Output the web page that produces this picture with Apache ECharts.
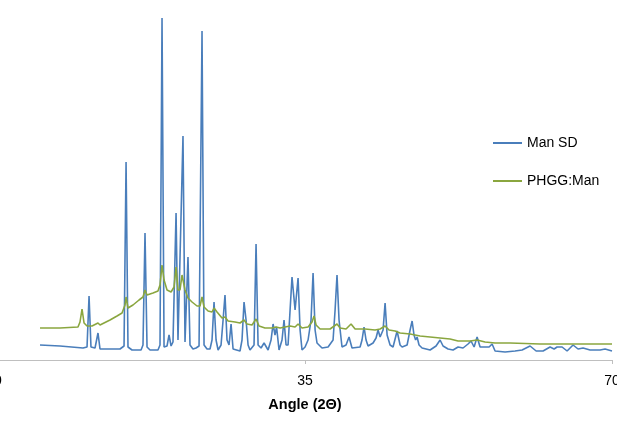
<!DOCTYPE html>
<html>
<head>
<meta charset="utf-8">
<script src="https://cdn.jsdelivr.net/npm/echarts@6/dist/echarts.min.js"></script>
<style>
html,body{margin:0;padding:0;background:#fff;}
#chart{width:617px;height:424px;}
</style>
</head>
<body>
<div id="chart"></div>
<script>
// X-ray powder diffraction patterns, angle in degrees 2θ, intensity in arbitrary units
var xTicks = [0, 35, 70];
var seriesNames = ['Man SD', 'PHGG:Man'];

var manSdAngle = [4.79,7.07,9.69,10.15,10.38,10.60,11.06,11.40,11.63,12.77,13.91,14.37,14.60,14.82,15.28,16.31,16.53,16.76,16.99,17.33,18.24,18.47,18.70,18.93,19.27,19.50,19.73,19.95,20.30,20.52,20.70,21.09,21.32,21.66,21.89,22.23,22.58,22.92,23.26,23.49,23.83,24.17,24.40,24.63,24.86,25.09,25.43,25.66,25.88,26.11,26.34,26.57,26.80,27.59,27.82,28.05,28.28,28.51,28.73,29.19,29.42,29.65,29.99,30.33,30.79,31.13,31.36,31.58,31.76,32.04,32.38,32.61,32.84,33.07,33.30,33.52,33.87,34.21,34.44,34.66,35.01,35.35,35.69,35.92,36.15,36.37,36.94,37.63,38.20,38.43,38.65,38.88,39.22,39.68,40.02,40.36,41.28,41.50,41.73,41.96,42.19,42.76,43.10,43.33,43.56,43.90,44.13,44.36,44.70,45.04,45.50,45.84,46.07,46.64,46.98,47.21,47.43,47.61,47.78,48.00,48.35,49.26,49.94,50.40,50.74,51.31,51.88,52.45,53.02,53.59,53.93,54.28,54.62,54.96,55.53,55.99,56.33,56.67,57.81,58.95,59.75,60.66,61.35,62.14,62.94,63.40,63.74,64.31,64.88,65.56,66.13,66.70,67.50,68.64,69.21,70.00];
var manSdIntensity = [150,140,120,130,640,130,120,270,110,110,110,140,1980,130,100,100,150,1270,130,100,100,150,3420,130,140,250,140,180,1470,200,200,2240,180,1030,150,110,120,140,3290,150,110,110,200,580,200,100,150,400,650,200,150,360,110,90,200,580,400,150,100,150,1160,150,120,170,100,200,360,250,330,100,200,400,150,150,500,830,500,820,300,100,130,200,400,870,300,170,120,130,200,500,850,400,130,150,230,120,130,200,330,200,140,170,220,300,230,300,570,250,150,130,290,150,130,150,300,390,250,200,230,150,120,100,140,200,140,110,100,130,120,160,190,130,230,130,130,130,160,90,80,90,100,140,90,90,130,110,130,130,90,150,110,120,100,100,110,90];

var phggAngle = [4.79,7.07,9.12,9.35,9.58,9.81,10.15,10.72,11.40,11.63,12.77,13.57,14.14,14.48,14.60,14.82,15.39,16.08,16.53,16.76,16.99,17.67,18.24,18.47,18.70,18.93,19.27,19.73,20.07,20.30,20.52,20.75,20.98,21.09,21.32,21.66,22.12,22.69,23.03,23.26,23.49,23.95,24.40,24.63,24.97,25.54,25.88,26.23,27.02,27.59,28.05,28.39,28.96,29.42,29.76,30.44,31.24,31.70,32.16,32.73,33.30,33.87,34.21,34.66,35.35,35.80,36.03,36.26,36.72,37.86,38.65,39.00,39.68,40.25,40.71,41.85,42.99,43.56,44.13,44.58,45.27,45.84,46.98,48.12,49.26,50.40,51.54,52.45,53.82,54.62,55.53,56.67,58.38,61.80,65.45,70.00];
var phggIntensity = [320,320,330,380,510,370,340,340,370,350,400,440,470,550,630,520,550,600,630,700,650,670,690,750,950,800,700,680,730,930,700,700,850,870,700,620,580,540,540,630,530,490,480,520,480,420,430,390,380,370,400,360,350,410,340,320,320,330,320,330,340,330,360,320,330,380,440,350,310,310,360,320,310,360,310,310,300,310,340,300,290,270,260,240,230,220,210,190,190,200,180,170,170,160,160,160];

function pairs(xs, ys) {
  var out = [];
  for (var i = 0; i < xs.length; i++) out.push([xs[i], ys[i]]);
  return out;
}

var FONT = 'Liberation Sans, Arial, sans-serif';
var chart = echarts.init(document.getElementById('chart'), null, {renderer: 'canvas'});
chart.setOption({
  animation: false,
  backgroundColor: '#ffffff',
  grid: {left: -2, right: 5, top: 0, bottom: 64, containLabel: false, outerBoundsMode: 'none'},
  legend: {
    orient: 'vertical',
    left: 488,
    top: 131,
    itemWidth: 29,
    itemHeight: 2,
    itemGap: 24,
    icon: 'rect',
    textStyle: {fontFamily: FONT, fontSize: 14, color: '#000'},
    data: seriesNames
  },
  xAxis: {
    type: 'value',
    min: xTicks[0],
    max: xTicks[xTicks.length - 1],
    interval: xTicks[1] - xTicks[0],
    name: 'Angle (2\u0398)',
    nameLocation: 'middle',
    nameGap: 37,
    nameTextStyle: {fontFamily: FONT, fontSize: 14.5, fontWeight: 'bold', color: '#000'},
    axisLine: {show: true, lineStyle: {color: '#bfbfbf', width: 1}},
    axisTick: {show: true, length: 4, lineStyle: {color: '#bfbfbf'}},
    axisLabel: {fontFamily: FONT, fontSize: 14, color: '#000', margin: 14},
    splitLine: {show: false}
  },
  yAxis: {
    type: 'value',
    min: 0,
    max: 3600,
    show: false,
    splitLine: {show: false}
  },
  series: [
    {
      name: seriesNames[0],
      type: 'line',
      data: pairs(manSdAngle, manSdIntensity),
      showSymbol: false,
      lineStyle: {color: '#4a7ebb', width: 1.6},
      itemStyle: {color: '#4a7ebb'},
      z: 2
    },
    {
      name: seriesNames[1],
      type: 'line',
      data: pairs(phggAngle, phggIntensity),
      showSymbol: false,
      lineStyle: {color: '#8aa63f', width: 1.6},
      itemStyle: {color: '#8aa63f'},
      z: 3
    }
  ]
});
</script>
</body>
</html>
